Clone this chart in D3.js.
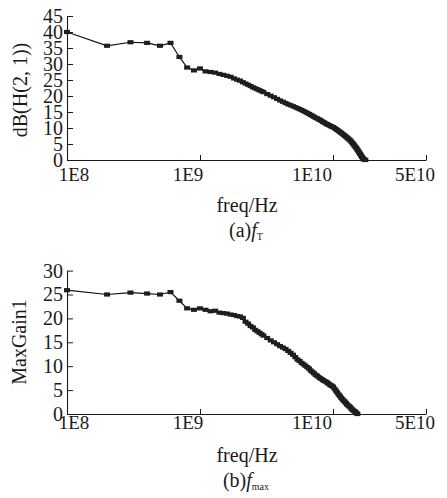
<!DOCTYPE html>
<html><head><meta charset="utf-8">
<script src="https://cdn.jsdelivr.net/npm/d3@7"></script>
<style>
body{margin:0;background:#fff}
text{font-family:"Liberation Serif","Times New Roman",serif;fill:#1a1a1a}
</style>
</head><body>
<svg id="c" width="447" height="498"></svg>
<script>
// ---- data ----
const xTickValues = [1e8, 1e9, 1e10, 5e10];
const xTickLabels = ["1E8", "1E9", "1E10", "5E10"];
const yTicksA = [0, 5, 10, 15, 20, 25, 30, 35, 40, 45];
const yTicksB = [0, 5, 10, 15, 20, 25, 30];

// frequencies in GHz
const freqA = [0.1,0.2,0.3,0.4,0.5,0.6,0.7,0.8,0.9,1.0,1.1,1.2,1.3,1.4,1.5,1.6,1.7,1.8,1.9,2.0,
  2.1,2.2,2.3,2.4,2.5,2.6,2.7,2.8,2.9,3.0,3.2,3.4,3.6,3.8,4.0,
  4.2,4.4,4.6,4.8,5.0,5.2,5.4,5.6,5.8,6.0,6.2,6.4,6.6,6.8,7.0,7.2,7.4,7.6,7.8,8.0,
  8.2,8.4,8.6,8.8,9.0,9.2,9.4,9.6,9.8,10,
  10.25,10.5,10.75,11,11.25,11.5,11.75,12,12.25,12.5,12.75,13,13.25,13.5,13.75,14,14.25,14.5,14.75,
  15,15.25,15.5,15.75,16,16.25,16.5,16.75,17,17.25,17.5];
const dbA = [40.0,35.7,36.8,36.6,35.7,36.6,32.2,28.9,28.0,28.6,27.7,27.5,27.3,26.9,26.6,26.3,26.0,25.5,25.1,24.8,
  24.3,23.9,23.5,23.1,22.7,22.4,22.1,21.8,21.5,21.2,20.6,20.1,19.6,19.1,18.6,
  18.2,17.8,17.4,17.1,16.8,16.5,16.2,15.9,15.6,15.3,15.0,14.7,14.4,14.1,13.8,13.5,13.2,13.0,12.7,12.5,
  12.2,11.9,11.7,11.4,11.2,11.0,10.8,10.6,10.4,10.3,
  10.0,9.7,9.4,9.1,8.8,8.5,8.2,7.9,7.6,7.3,7.0,6.7,6.4,6.1,5.7,5.3,4.9,4.5,4.1,
  3.7,3.2,2.8,2.3,1.9,1.4,1.0,0.6,0.2,0.1,0.0];

const freqB = [0.1,0.2,0.3,0.4,0.5,0.6,0.7,0.8,0.9,1.0,1.1,1.2,1.3,1.4,1.5,1.6,1.7,1.8,1.9,2.0,
  2.1,2.2,2.3,2.4,2.5,2.6,2.7,2.8,2.9,3.0,3.2,3.4,3.6,3.8,4.0,
  4.2,4.4,4.6,4.8,5.0,5.2,5.4,5.6,5.8,6.0,6.2,6.4,6.6,6.8,7.0,7.2,7.4,7.6,7.8,8.0,
  8.2,8.4,8.6,8.8,9.0,9.2,9.4,9.6,9.8,10,
  10.25,10.5,10.75,11,11.25,11.5,11.75,12,12.25,12.5,12.75,13,13.25,13.5,13.75,14,14.25,14.5,14.75,15,15.25];
const gainB = [25.9,25.0,25.4,25.2,25.0,25.5,23.7,22.1,21.8,22.1,21.8,21.5,21.6,21.2,21.1,21.0,20.8,20.7,20.5,20.4,
  20.1,19.3,18.9,18.4,18.1,17.6,17.3,17.0,16.7,16.4,15.9,15.4,15.0,14.6,14.2,
  13.9,13.6,13.2,12.8,12.4,11.9,11.4,11.1,10.7,10.4,10.1,9.8,9.5,9.1,8.8,8.5,8.2,8.0,7.7,7.5,
  7.3,7.1,6.9,6.8,6.6,6.4,6.2,6.0,5.9,5.7,
  5.3,4.9,4.5,4.1,3.8,3.4,3.1,2.8,2.6,2.3,2.0,1.8,1.6,1.4,1.1,0.9,0.7,0.6,0.4,0.2,0.0];

// ---- drawing ----
const svg = d3.select("#c");
const x = d3.scaleLog().domain([1e8, 5e10]).range([67, 426]);
const labelDx = [7, -12, -21, -11];

function panel(o) {
  const y = d3.scaleLinear().domain([0, d3.max(o.yTicks)]).range(o.yRange);
  const g = svg.append("g");
  const pts = o.freq.map((f, i) => [f * 1e9, o.vals[i]]);

  // y axis
  const ya = g.append("g").attr("transform", `translate(${x.range()[0]},0)`)
    .call(d3.axisLeft(y).tickValues(o.yTicks).tickSizeInner(-6).tickSizeOuter(0).tickPadding(4));
  ya.select(".domain").attr("stroke", "#1a1a1a").attr("stroke-width", 1.1);
  ya.selectAll(".tick line").attr("stroke", "#1a1a1a");
  ya.selectAll(".tick text").attr("font-size", 20).attr("fill", "#1a1a1a");

  // x axis
  const xa = g.append("g").attr("transform", `translate(0,${o.yRange[0]})`)
    .call(d3.axisBottom(x).tickValues(xTickValues).tickSizeInner(-5).tickSizeOuter(0).tickFormat(() => ""));
  xa.select(".domain").attr("stroke", "#1a1a1a").attr("stroke-width", 1.1);
  xa.selectAll(".tick line").attr("stroke", "#1a1a1a");
  xa.selectAll(".tick text").remove();
  g.selectAll(".xl").data(xTickValues).join("text")
    .attr("x", (d, i) => x(d) + labelDx[i])
    .attr("y", o.yRange[0] + o.xLabelOff)
    .attr("text-anchor", "middle").attr("font-size", 19)
    .text((d, i) => xTickLabels[i]);

  // line + markers
  const line = d3.line().x(d => x(d[0])).y(d => y(d[1]));
  g.append("path").datum(pts).attr("d", line).attr("fill", "none")
    .attr("stroke", "#111").attr("stroke-width", 1.2);
  g.selectAll(".m").data(pts).join("rect")
    .attr("x", d => x(d[0]) - 3).attr("y", d => y(d[1]) - 2.1)
    .attr("width", 6).attr("height", 4.2)
    .attr("fill", "#1e1e1e");

  // titles
  g.append("text").attr("transform", `translate(${o.ytX},${o.ytY}) rotate(-90)`)
    .attr("text-anchor", "middle").attr("font-size", 20).text(o.yTitle);
  g.append("text").attr("x", 247).attr("y", o.xtY).attr("text-anchor", "middle")
    .attr("font-size", 20).text("freq/Hz");
  const cap = g.append("text").attr("x", 246).attr("y", o.capY).attr("text-anchor", "middle").attr("font-size", 20);
  cap.append("tspan").text(o.capPre);
  cap.append("tspan").attr("font-style", "italic").text("f");
  cap.append("tspan").attr("font-size", 10).attr("dy", 3).text(o.capSub);
}

panel({freq: freqA, vals: dbA, yTicks: yTicksA, yRange: [160, 16], xLabelOff: 20.5,
  yTitle: "dB(H(2, 1))", ytX: 27, ytY: 90, xtY: 212, capY: 237, capPre: "(a)", capSub: "T"});
panel({freq: freqB, vals: gainB, yTicks: yTicksB, yRange: [414, 270.6], xLabelOff: 15,
  yTitle: "MaxGain1", ytX: 26, ytY: 342, xtY: 462, capY: 487, capPre: "(b)", capSub: "max"});
</script>
</body></html>
